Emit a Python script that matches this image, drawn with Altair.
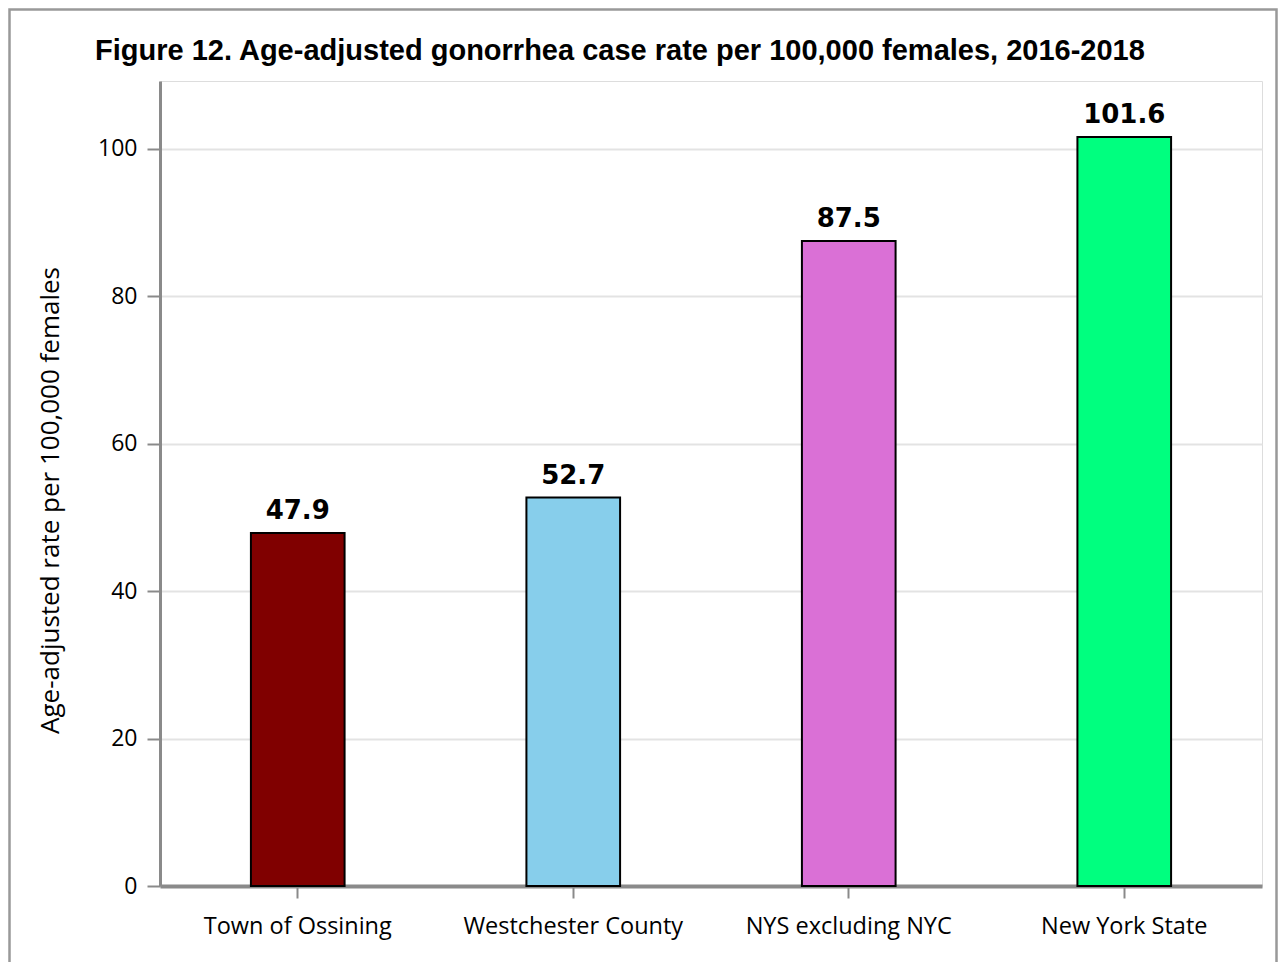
import altair as alt
import pandas as pd

categories = ["Town of Ossining", "Westchester County", "NYS excluding NYC", "New York State"]
values = [47.9, 52.7, 87.5, 101.6]
value_labels = ["47.9", "52.7", "87.5", "101.6"]
colors = ["#800000", "#87CEEB", "#DA70D6", "#00FF7F"]
y_ticks = [0, 20, 40, 60, 80, 100]
y_max = 109.2

title_text = "Figure 12. Age-adjusted gonorrhea case rate per 100,000 females, 2016-2018"
y_title = "Age-adjusted rate per 100,000 females"

df = pd.DataFrame({"cat": categories, "val": values, "label": value_labels})

W, H = 1102, 805
PL, PT, PR, PB = 152, 73, 16, 80
AX = "#8a8a8a"
FONT = "Open Sans"

x_enc = alt.X(
    "cat:N",
    sort=categories,
    scale=alt.Scale(paddingInner=0.66, paddingOuter=0.33),
    axis=alt.Axis(
        title=None, labelAngle=0, labelFont=FONT, labelFontSize=23.5, labelColor="#000",
        tickColor=AX, tickSize=12, tickWidth=2, domainColor=AX, domainWidth=4,
        labelPadding=16, labelLimit=400, grid=False,
    ),
)
y_enc = alt.Y(
    "val:Q",
    scale=alt.Scale(domain=[0, y_max], nice=False),
    axis=alt.Axis(
        values=y_ticks, title=y_title, titleFont=FONT, titleFontSize=26,
        titleFontWeight="normal", titleColor="#000", titleAngle=270,
        titleX=-110, titleY=419, titleAlign="center", titleBaseline="middle",
        labelFont=FONT, labelFontSize=23, labelColor="#000", labelPadding=10,
        tickColor=AX, tickSize=13, tickWidth=2, domainColor=AX, domainWidth=3,
        gridColor="#e3e3e3", gridWidth=2,
    ),
)

bars = alt.Chart(df).mark_bar(stroke="#000", strokeWidth=2).encode(
    x=x_enc,
    y=y_enc,
    color=alt.Color("cat:N", sort=categories,
                    scale=alt.Scale(domain=categories, range=colors), legend=None),
)

texts = alt.Chart(df).mark_text(
    font="DejaVu Sans", fontSize=26, fontWeight="bold", baseline="alphabetic", dy=-14, color="#000"
).encode(
    x=alt.X("cat:N", sort=categories),
    y=alt.Y("val:Q"),
    text="label:N",
)

frame = alt.Chart(pd.DataFrame({"f": [0]})).mark_rect(
    fill=None, stroke="#999999", strokeWidth=2.5
).encode(
    x=alt.value(-PL + 1.5), x2=alt.value(W + PR - 1.5),
    y=alt.value(-PT + 1.5), y2=alt.value(H + PB + 20),
)

chart = alt.layer(bars, texts, frame).properties(
    width=W, height=H,
    title=alt.Title(title_text, font="Liberation Sans", fontSize=29, fontWeight="bold",
                    anchor="start", frame="group", dx=-65, offset=-81,
                    baseline="alphabetic", color="#000"),
    autosize=alt.AutoSizeParams(type="none"),
    padding={"left": PL, "top": PT, "right": PR, "bottom": PB},
).configure_view(stroke=AX, strokeWidth=3).configure(background="white")

chart.save("out.html", embed_options={"renderer": "svg", "actions": False})
